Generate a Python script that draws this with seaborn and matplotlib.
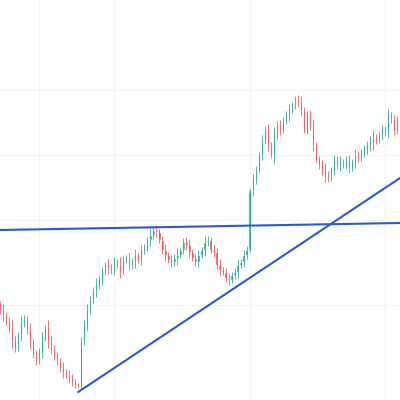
import numpy as np
import pandas as pd
import matplotlib
matplotlib.use("Agg")
import matplotlib.pyplot as plt
import seaborn as sns

# Closing prices, one candle per bar (opens are the previous close)
closes = [90, 85, 78, 72, 60, 52, 65, 78, 80, 70,
          58, 45, 40, 48, 62, 72, 60, 50, 45, 38,
          32, 28, 25, 22, 18, 15, 14, 60, 75, 90,
          100, 110, 115, 120, 128, 135, 132, 130, 138, 135,
          130, 140, 142, 135, 138, 145, 140, 150, 152, 160,
          165, 170, 168, 160, 150, 145, 140, 138, 142, 145,
          150, 158, 155, 148, 142, 138, 145, 150, 158, 160,
          150, 148, 135, 130, 128, 122, 120, 125, 128, 135,
          138, 145, 150, 210, 220, 230, 245, 260, 270, 255,
          245, 265, 275, 270, 280, 285, 290, 295, 300, 298,
          290, 270, 285, 275, 255, 240, 235, 230, 225, 222,
          230, 240, 235, 238, 235, 240, 232, 238, 245, 242,
          248, 250, 255, 258, 262, 260, 265, 270, 268, 285,
          280, 270, 280, 285]
first_open = 95
wicks = [4, 6, 3, 5, 8, 4, 3, 6, 5, 4,
         7, 3, 5, 4, 6, 3, 8, 4, 5, 3,
         4, 6, 3, 5, 4, 3, 2, 3, 5, 6,
         4, 3, 7, 4, 5, 3, 6, 4, 5, 3,
         8, 4, 3, 5, 4, 6, 3, 5, 4, 3,
         6, 4, 5, 3, 4, 6, 3, 5, 4, 7,
         3, 4, 5, 6, 3, 4, 5, 3, 6, 4,
         3, 5, 4, 6, 3, 4, 5, 3, 4, 6,
         3, 5, 4, 2, 6, 4, 3, 5, 4, 6,
         3, 8, 4, 5, 3, 4, 6, 3, 4, 5,
         6, 3, 4, 5, 6, 3, 4, 5, 7, 4,
         3, 5, 4, 6, 3, 4, 5, 3, 6, 4,
         3, 5, 4, 6, 8, 4, 3, 5, 4, 6,
         3, 5, 4, 3]

# Trend lines (candle index, price)
h_line_x = [0, 133]
h_line_y = [170, 177]
d_line_x = [26, 133]
d_line_y = [8, 222]

sns.set_style("white")
fig = plt.figure(figsize=(4, 4), dpi=100)
ax = fig.add_axes([0, 0, 1, 1])

df = pd.DataFrame({"close": closes, "wick": wicks})
df["open"] = [first_open] + closes[:-1]
df["idx"] = np.arange(len(df))
df["up"] = df["close"] >= df["open"]
green, red = "#26a69a", "#ef5350"
colors = np.where(df["up"], green, red)

ax.vlines(df["idx"], np.minimum(df["open"], df["close"]) - df["wick"],
          np.maximum(df["open"], df["close"]) + df["wick"], colors=colors, lw=0.7, alpha=0.8)
ax.bar(df["idx"], (df["close"] - df["open"]).abs().clip(lower=2),
       bottom=np.minimum(df["open"], df["close"]), width=0.75, color=colors, alpha=0.9)

sns.lineplot(x=h_line_x, y=h_line_y, ax=ax, color="#2a5cc8", lw=1.5)
sns.lineplot(x=d_line_x, y=d_line_y, ax=ax, color="#2a5cc8", lw=1.5)

for gx in [13, 38, 83, 128]:
    ax.axvline(gx, color="#f4f4f4", lw=0.8, zorder=0)
for gy in [95, 180, 245, 310]:
    ax.axhline(gy, color="#f4f4f4", lw=0.8, zorder=0)

ax.set_xlim(0, 133)
ax.set_ylim(0, 400)
ax.set_xticks([])
ax.set_yticks([])
for s in ax.spines.values():
    s.set_visible(False)

fig.savefig("out.png", dpi=100)
